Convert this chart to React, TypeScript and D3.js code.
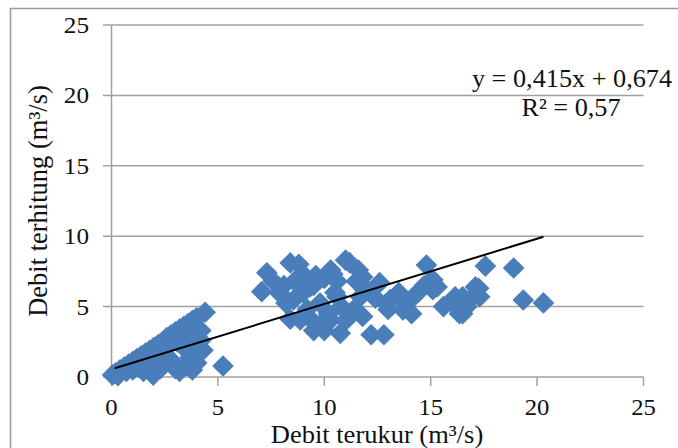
import React from "react";
import * as d3 from "d3";

// measured discharge (x) vs computed discharge (y), m3/s
const measured = [
  0.05, 0.2, 0.4, 0.6, 0.8, 1.0, 1.2, 1.4, 1.6, 1.8, 2.0, 2.2, 2.4, 2.6, 2.8, 3.0, 3.2, 3.4, 3.6, 3.8, 4.0, 4.4,
  0.3, 0.7, 1.0, 1.3, 1.6, 1.9, 2.1, 2.3, 2.6, 1.5, 1.96, 2.3, 2.6, 3.0, 3.2, 3.5, 3.7, 3.4, 3.1, 3.6, 3.9, 4.2,
  4.3, 4.0, 3.8, 2.8, 2.9, 4.2, 3.9, 5.24,
  7.3, 7.06, 7.9, 8.4, 8.8, 8.55, 8.2, 9.0, 9.33, 8.6, 8.87, 8.4, 9.5, 9.4, 9.8, 10.0, 10.3, 10.3, 10.0, 10.6,
  10.75, 11.0, 11.2, 11.2, 11.7, 11.8, 11.8, 12.0, 12.2, 12.8, 12.6, 12.9, 13.1, 13.5, 13.7, 13.8, 14.1, 14.2,
  14.4, 14.8, 15.1, 15.1, 15.3, 15.6, 16.15, 16.35, 16.5, 16.5, 16.7, 17.0, 17.1, 17.25, 17.3, 17.57, 18.9,
  19.35, 20.3,
  9.5, 10.2, 10.5, 10.8, 11.5, 10.4, 9.0, 9.2, 10.0, 11.0, 11.4, 12.4, 13.0, 14.7, 16.0, 10.6, 9.6, 7.6, 8.1, 11.6,
];
const computed = [
  0.15, 0.3, 0.5, 0.7, 0.9, 1.1, 1.3, 1.5, 1.7, 1.9, 2.1, 2.3, 2.5, 2.8, 3.0, 3.2, 3.4, 3.6, 3.8, 4.0, 4.2, 4.6,
  0.1, 0.4, 0.5, 0.7, 0.9, 1.2, 1.5, 1.8, 2.1, 0.4, 0.14, 0.6, 1.1, 0.6, 0.4, 0.8, 1.4, 2.1, 2.5, 2.8, 2.4, 2.6,
  1.9, 1.0, 0.5, 1.2, 2.6, 3.3, 3.2, 0.78,
  7.4, 6.06, 5.96, 8.1, 8.0, 5.47, 5.25, 7.3, 6.4, 6.8, 4.05, 4.1, 3.3, 4.05, 5.25, 3.3, 4.05, 7.6, 7.0, 5.7,
  3.1, 8.3, 8.1, 4.5, 5.7, 7.1, 4.3, 6.2, 3.0, 3.0, 6.7, 5.2, 5.5, 6.0, 4.76, 5.2, 4.5, 5.7,
  6.0, 7.95, 6.9, 6.2, 6.4, 5.0, 5.7, 4.5, 4.5, 5.7, 5.0, 5.7, 6.4, 6.3, 5.7, 7.88, 7.74,
  5.47, 5.26,
  6.5, 4.5, 6.0, 5.0, 6.8, 7.3, 6.0, 4.8, 4.0, 4.0, 4.8, 5.6, 4.8, 6.5, 5.3, 6.8, 7.2, 6.8, 6.5, 7.6,
];

// trend line as drawn in the picture
const trendX = [0.15, 20.3];
const trendY = [0.62, 9.96];

const ticks = [0, 5, 10, 15, 20, 25];
const xTitle = "Debit terukur (m³/s)";
const yTitle = "Debit terhitung (m³/s)";
const eqLine = "y = 0,415x + 0,674";
const r2Line = "R² = 0,57";

const W = 678;
const H = 448;
const font = "'Liberation Serif', 'Times New Roman', serif";
// text in the picture is slightly wider than Liberation Serif
const SX = 1.05;

const Label = ({ x, y, anchor, size, rotate, sx = SX, children }: any) => (
  <text
    transform={`translate(${x},${y}) scale(${sx},1)${rotate ? " rotate(" + rotate + ")" : ""}`}
    textAnchor={anchor}
    fontSize={size}
    fill="#111"
  >
    {children}
  </text>
);

export default function App() {
  const x = d3.scaleLinear().domain([0, 25]).range([111.5, 643.5]);
  const y = d3.scaleLinear().domain([0, 25]).range([377, 25]);

  const hasD2 = !!(d3 as any).symbolDiamond2;
  const symType: any = hasD2 ? (d3 as any).symbolDiamond2 : d3.symbolSquare;
  const sym = d3.symbol().type(symType).size(hasD2 ? 300 : 236)();
  const rot = hasD2 ? "" : " rotate(45)";

  const pts = measured.map((m, i) => [m, computed[i]]);
  const trend = d3
    .line<number>()
    .x((d) => x(trendX[d]))
    .y((d) => y(trendY[d]))([0, 1]);

  const grid = "#a0a0a0";

  return (
    <svg
      width={W}
      height={H}
      style={{ position: "absolute", left: 0, top: 0, background: "#fff" }}
      fontFamily={font}
    >
      <rect x={10.5} y={8.5} width={W + 20} height={H + 20} fill="none" stroke="#9a9a9a" strokeWidth={1.5} />

      {ticks.map((t) => (
        <g key={"gy" + t}>
          {t > 0 && (
            <line x1={103} x2={x(25)} y1={y(t)} y2={y(t)} stroke={grid} strokeWidth={1.5} />
          )}
          <Label x={89} y={y(t) + 8} anchor="end" size={24}>
            {t}
          </Label>
        </g>
      ))}

      <line x1={x(0)} x2={x(0)} y1={y(25)} y2={y(0)} stroke={grid} strokeWidth={1.5} />
      <line x1={103} x2={x(25)} y1={y(0)} y2={y(0)} stroke={grid} strokeWidth={1.5} />
      {ticks.map((t) => (
        <g key={"gx" + t}>
          <line x1={x(t)} x2={x(t)} y1={y(0)} y2={y(0) + 9} stroke={grid} strokeWidth={1.5} />
          <Label x={x(t)} y={415} anchor="middle" size={23.5}>
            {t}
          </Label>
        </g>
      ))}

      {pts.map((p, i) => (
        <path
          key={i}
          d={sym || ""}
          transform={`translate(${x(p[0])},${y(p[1])})${rot}`}
          fill="#4A7EBB"
        />
      ))}

      <path d={trend || ""} fill="none" stroke="#000" strokeWidth={2} />

      <Label x={572} y={87} anchor="middle" size={25}>
        {eqLine}
      </Label>
      <Label x={571} y={116} anchor="middle" size={25}>
        {r2Line}
      </Label>

      <Label x={377} y={443} anchor="middle" size={25} sx={1.06}>
        {xTitle}
      </Label>
      <Label x={47} y={201} anchor="middle" size={26.5} sx={1} rotate={-90}>
        {yTitle}
      </Label>
    </svg>
  );
}
